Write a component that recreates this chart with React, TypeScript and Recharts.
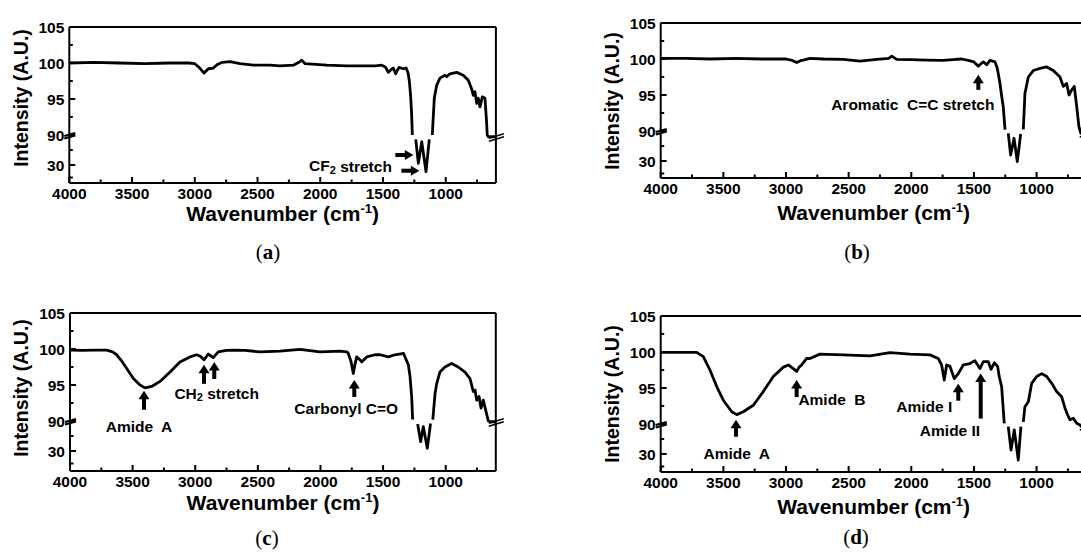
import React from 'react';
import { LineChart, Line, XAxis, YAxis, ReferenceLine, ReferenceDot } from 'recharts';

type Pt = [number, number | null];

// wavenumber (cm-1), intensity (A.U.); null marks the gap at the axis break
const specA: Pt[] = [
  [4000, 100.0], [3800, 100.1], [3600, 100.0], [3400, 99.9], [3200, 100.0], [3050, 100.0], [3000, 99.9],
  [2960, 99.3], [2926, 98.6], [2892, 99.2], [2852, 99.3], [2820, 99.8], [2780, 100.1], [2719, 100.2],
  [2640, 99.9], [2533, 99.7], [2400, 99.7], [2321, 99.6], [2215, 99.7], [2170, 100.1], [2148, 100.4],
  [2120, 99.9], [1949, 99.7], [1789, 99.6], [1630, 99.6], [1560, 99.6], [1510, 99.7], [1480, 99.4],
  [1457, 98.7], [1435, 99.1], [1418, 99.3], [1399, 98.5], [1385, 99.0], [1372, 99.4], [1338, 99.2],
  [1315, 99.3], [1300, 98.6], [1290, 97.5], [1280, 95.5], [1272, 93], [1266, 90], [1250, null],
  [1239, 81.4], [1218, 33.4], [1191, 76.6], [1157, 16.6], [1131, 81.4], [1120, null],
  [1107, 90], [1091, 95.1], [1072, 96.9], [1046, 97.9], [1006, 98.3], [992, 98.1], [966, 98.5],
  [912, 98.7], [860, 98.3], [820, 97.6], [793, 96.4], [780, 95.5], [767, 96.0], [753, 94.4],
  [740, 95.1], [727, 93.9], [708, 95.3], [687, 95.1], [675, 92], [669, 90], [660, 86.5], [600, 86.5],
];

const specB: Pt[] = [
  [4000, 100.1], [3800, 100.1], [3600, 100.0], [3400, 100.1], [3200, 100.0], [3000, 100.0], [2950, 99.8],
  [2915, 99.5], [2880, 99.8], [2862, 99.85], [2808, 100.1], [2700, 100.0], [2543, 99.95], [2409, 99.7],
  [2276, 99.95], [2180, 100.1], [2156, 100.4], [2117, 99.95], [2000, 99.9], [1877, 99.85], [1750, 99.8],
  [1665, 99.9], [1600, 100.0], [1545, 99.8], [1500, 99.6], [1465, 99.0], [1440, 99.4], [1425, 99.6],
  [1398, 99.2], [1372, 99.8], [1332, 99.6], [1315, 98.8], [1306, 98.0], [1292, 96.6], [1280, 95],
  [1266, 93.4], [1252, 90.2], [1240, null], [1226, 85.4], [1207, 42], [1180, 75.5], [1154, 28.7],
  [1127, 84], [1115, null], [1106, 90.2], [1093, 95.2], [1066, 97.5], [1026, 98.4], [973, 98.7],
  [919, 98.9], [867, 98.4], [813, 97.5], [787, 96.2], [760, 96.6], [741, 95.0], [720, 95.7],
  [699, 96.2], [680, 93.4], [662, 90.6], [650, 88], [600, 87],
];

const specC: Pt[] = [
  [4000, 99.85], [3900, 99.8], [3800, 99.85], [3707, 99.85], [3660, 99.6], [3627, 99.2], [3590, 98.4],
  [3547, 97.3], [3494, 95.9], [3441, 95.0], [3401, 94.6], [3348, 94.8], [3281, 95.5], [3201, 96.8],
  [3122, 98.2], [3042, 98.9], [2988, 99.2], [2960, 99.0], [2930, 98.5], [2896, 99.3], [2856, 98.8],
  [2816, 99.6], [2750, 99.8], [2696, 99.85], [2600, 99.8], [2483, 99.6], [2323, 99.7], [2163, 99.95],
  [2004, 99.6], [1844, 99.7], [1790, 99.6], [1778, 99.4], [1755, 98.2], [1738, 96.6], [1725, 97.8],
  [1711, 98.9], [1690, 98.6], [1671, 98.2], [1631, 98.9], [1564, 99.2], [1524, 99.2], [1458, 98.9],
  [1405, 99.2], [1337, 99.4], [1325, 98.9], [1298, 97.8], [1285, 96.2], [1272, 93.4], [1264, 90.2],
  [1245, null], [1224, 84], [1200, 48.7], [1179, 78.6], [1147, 35.3], [1121, 85], [1112, null],
  [1103, 90.2], [1085, 93.8], [1072, 95.2], [1046, 96.8], [1006, 97.5], [953, 98.0], [900, 97.5],
  [846, 96.8], [806, 95.9], [780, 94.1], [766, 94.3], [753, 92.9], [734, 93.4], [718, 91.8],
  [700, 92.9], [678, 91.3], [660, 90.0], [640, 88.5], [600, 88.5],
];

const specD: Pt[] = [
  [4000, 99.95], [3850, 99.95], [3713, 99.95], [3660, 99.35], [3607, 97.5], [3553, 95.2], [3500, 93.3],
  [3433, 91.7], [3393, 91.3], [3341, 91.7], [3261, 92.6], [3181, 94.5], [3101, 96.6], [3021, 97.9],
  [2981, 98.2], [2942, 97.7], [2915, 97.3], [2895, 97.9], [2875, 98.2], [2835, 99.1], [2809, 99.1],
  [2729, 99.7], [2543, 99.6], [2330, 99.45], [2170, 99.9], [2010, 99.7], [1851, 99.6], [1785, 99.1],
  [1758, 98.2], [1737, 96.1], [1718, 98.2], [1691, 98.0], [1657, 96.3], [1625, 97.0], [1585, 98.2],
  [1532, 98.4], [1492, 98.8], [1452, 97.7], [1425, 98.65], [1385, 98.65], [1364, 97.6], [1337, 98.5],
  [1311, 98.0], [1298, 96.6], [1279, 95.2], [1270, 93], [1258, 90.1], [1240, null], [1226, 84.7],
  [1204, 38], [1178, 78], [1146, 18], [1125, 84.7], [1115, null], [1106, 90.3], [1093, 92.4],
  [1066, 93.1], [1039, 95.65], [999, 96.6], [959, 97.0], [919, 96.6], [879, 95.65], [840, 94.5],
  [800, 93.8], [773, 92.2], [752, 91.25], [734, 90.6], [707, 90.8], [680, 90.1], [654, 88], [600, 87],
];

const xMajor = [4000, 3500, 3000, 2500, 2000, 1500, 1000];
const xMinor = [3750, 3250, 2750, 2250, 1750, 1250, 750];
const yMajor = [105, 100, 95, 90, 30];
const yMinor = [102.5, 97.5, 92.5, 60, 5];

type Arrow = { x: number; y: number; dir: 'up' | 'right'; len: number };
type Note = { x: number; y: number; pre: string; sub?: string; post?: string };

const arrowsA: Arrow[] = [
  { x: 1258, y: 50, dir: 'right', len: 18 },
  { x: 1210, y: 18.6, dir: 'right', len: 18 },
];
const notesA: Note[] = [{ x: 1759, y: 28.7, pre: 'CF', sub: '2', post: ' stretch' }];

const arrowsB: Arrow[] = [{ x: 1465, y: 97.8, dir: 'up', len: 15 }];
const notesB: Note[] = [{ x: 1988, y: 93.7, pre: 'Aromatic  C=C stretch' }];

const arrowsC: Arrow[] = [
  { x: 3409, y: 94.2, dir: 'up', len: 19 },
  { x: 2930, y: 97.8, dir: 'up', len: 19 },
  { x: 2848, y: 98.2, dir: 'up', len: 17 },
  { x: 1730, y: 95.7, dir: 'up', len: 17 },
];
const notesC: Note[] = [
  { x: 3449, y: 78.6, pre: 'Amide  A' },
  { x: 2829, y: 93.85, pre: 'CH', sub: '2', post: ' stretch' },
  { x: 1794, y: 91.76, pre: 'Carbonyl C=O' },
];

const arrowsD: Arrow[] = [
  { x: 3399, y: 90.6, dir: 'up', len: 17 },
  { x: 2915, y: 96.1, dir: 'up', len: 17 },
  { x: 1625, y: 95.6, dir: 'up', len: 17 },
  { x: 1446, y: 97.0, dir: 'up', len: 45 },
];
const notesD: Note[] = [
  { x: 3393, y: 31.4, pre: 'Amide  A' },
  { x: 2633, y: 93.4, pre: 'Amide  B' },
  { x: 1896, y: 92.4, pre: 'Amide I' },
  { x: 1691, y: 78, pre: 'Amide II' },
];

// broken y axis: 90..105 linear, everything below 90 squeezed
const BREAK = 90;
const PX_PER_UNIT = 7.2;
const LOW = 30 / PX_PER_UNIT / 60;
const tf = (v: number) => (v >= BREAK ? v : BREAK - (BREAK - v) * LOW);

const FONT = "'Liberation Sans', Arial, sans-serif";
const tickFont = { fontFamily: FONT, fontWeight: 700, fontSize: 15.5, fill: '#000' };
const noteFont = { fontFamily: FONT, fontWeight: 700, fontSize: 15.5, fill: '#000' };

const XTick = (props: any) => {
  const { x, y, payload } = props;
  const major = xMajor.includes(payload.value);
  return (
    <g>
      <line x1={x} x2={x} y1={y} y2={y - (major ? 6 : 3.5)} stroke="#000" strokeWidth={2} />
      {major && (
        <text x={x} y={y + 10.5} textAnchor="middle" dominantBaseline="central" style={tickFont}>
          {payload.value}
        </text>
      )}
    </g>
  );
};

const YTick = (props: any) => {
  const { x, y, payload } = props;
  const label = yMajor.find((v) => Math.abs(tf(v) - payload.value) < 1e-6);
  return (
    <g>
      <line x1={x} x2={x + (label !== undefined ? 6 : 3.5)} y1={y} y2={y} stroke="#000" strokeWidth={2} />
      {label === 90 && (
        <g stroke="#000" strokeWidth={2.2}>
          <line x1={x - 5} y1={y + 1} x2={x + 6} y2={y - 2} />
          <line x1={x - 5} y1={y + 3.5} x2={x + 6} y2={y + 0.5} />
        </g>
      )}
      {label !== undefined && (
        <text x={x - 5} y={y} textAnchor="end" dominantBaseline="central" style={tickFont}>
          {label}
        </text>
      )}
    </g>
  );
};

const arrowShape = (a: Arrow) => (p: any) => {
  const { cx, cy } = p;
  if (a.dir === 'up') {
    return (
      <g fill="#000">
        <polygon points={`${cx},${cy} ${cx - 5.5},${cy + 8.5} ${cx + 5.5},${cy + 8.5}`} />
        <rect x={cx - 2} y={cy + 7} width={4} height={a.len - 7} />
      </g>
    );
  }
  return (
    <g fill="#000">
      <polygon points={`${cx},${cy} ${cx - 8.5},${cy - 5} ${cx - 8.5},${cy + 5}`} />
      <rect x={cx - a.len} y={cy - 2} width={a.len - 7} height={4} />
    </g>
  );
};

const noteShape = (n: Note) => (p: any) => {
  const { cx, cy } = p;
  return (
    <text x={cx} y={cy} textAnchor="middle" dominantBaseline="central" style={noteFont} xmlSpace="preserve">
      {n.pre}
      {n.sub && (
        <tspan fontSize={11} dy={4}>
          {n.sub}
        </tspan>
      )}
      {n.post && <tspan dy={n.sub ? -4 : 0}>{n.post}</tspan>}
    </text>
  );
};

const breakShape = (p: any) => {
  const { cx, cy } = p;
  return (
    <g stroke="#000" strokeWidth={1.6}>
      <line x1={cx - 7} y1={cy + 1.5} x2={cx + 8} y2={cy - 3} />
      <line x1={cx - 7} y1={cy + 4.5} x2={cx + 8} y2={cy} />
    </g>
  );
};

type PanelCfg = {
  id: string;
  data: Pt[];
  arrows: Arrow[];
  notes: Note[];
  box: { left: number; top: number; w: number; h: number };
  plot: { x: number; y: number; w: number; h: number };
  xTitle: [number, number];
  yTitle: [number, number];
  caption: [number, number];
};

const panels: PanelCfg[] = [
  {
    id: 'a', data: specA, arrows: arrowsA, notes: notesA,
    box: { left: 0, top: 0, w: 530, h: 240 }, plot: { x: 69.3, y: 27, w: 426.6, h: 156 },
    xTitle: [282.6, 214], yTitle: [22, 98], caption: [268, 252],
  },
  {
    id: 'b', data: specB, arrows: arrowsB, notes: notesB,
    box: { left: 560, top: 0, w: 560, h: 240 }, plot: { x: 660.7, y: 23, w: 426, h: 155 },
    xTitle: [873.7, 212.5], yTitle: [613.3, 100.7], caption: [857, 252],
  },
  {
    id: 'c', data: specC, arrows: arrowsC, notes: notesC,
    box: { left: 0, top: 280, w: 530, h: 240 }, plot: { x: 70, y: 313, w: 425.8, h: 158 },
    xTitle: [283, 502.5], yTitle: [22.3, 387.5], caption: [267, 538],
  },
  {
    id: 'd', data: specD, arrows: arrowsD, notes: notesD,
    box: { left: 560, top: 280, w: 560, h: 240 }, plot: { x: 660.7, y: 316, w: 426, h: 156 },
    xTitle: [873.7, 507], yTitle: [613.3, 394], caption: [856, 537],
  },
];

const Y_W = 40;
const X_H = 30;

const Panel = ({ cfg }: { cfg: PanelCfg }) => {
  const { box, plot } = cfg;
  const rows = cfg.data.map(([wn, v]) => ({ wn, t: v == null ? null : tf(v) }));
  const lo = 105 - plot.h / PX_PER_UNIT;
  const margin = {
    left: plot.x - box.left - Y_W,
    top: plot.y - box.top,
    right: box.left + box.w - plot.x - plot.w,
    bottom: box.top + box.h - plot.y - plot.h - X_H,
  };
  return (
    <div style={{ position: 'absolute', left: box.left, top: box.top }}>
      <LineChart width={box.w} height={box.h} data={rows} margin={margin}>
        <XAxis
          type="number"
          dataKey="wn"
          domain={[600, 4000]}
          reversed
          ticks={[...xMajor, ...xMinor]}
          interval={0}
          tickSize={0}
          tickMargin={0}
          tickLine={false}
          tick={(p: any) => <XTick {...p} />}
          axisLine={{ stroke: '#000', strokeWidth: 2 }}
          height={X_H}
          allowDataOverflow
        />
        <YAxis
          type="number"
          domain={[lo, 105]}
          ticks={[...yMajor.map(tf), ...yMinor.map(tf)]}
          interval={0}
          tickSize={0}
          tickMargin={0}
          tickLine={false}
          tick={(p: any) => <YTick {...p} />}
          axisLine={{ stroke: '#000', strokeWidth: 2 }}
          width={Y_W}
          allowDataOverflow
        />
        <ReferenceLine y={105} stroke="#000" strokeWidth={2} />
        <ReferenceLine x={600} stroke="#000" strokeWidth={2} />
        <Line
          type="linear"
          dataKey="t"
          stroke="#000"
          strokeWidth={2.8}
          strokeLinejoin="round"
          dot={false}
          activeDot={false}
          connectNulls={false}
          isAnimationActive={false}
        />
        <ReferenceDot x={600} y={tf(cfg.data[cfg.data.length - 1][1] as number)} r={0} ifOverflow="visible" shape={breakShape} />
        {cfg.arrows.map((a, i) => (
          <ReferenceDot key={`ar${i}`} x={a.x} y={tf(a.y)} r={0} ifOverflow="visible" shape={arrowShape(a)} />
        ))}
        {cfg.notes.map((n, i) => (
          <ReferenceDot key={`nt${i}`} x={n.x} y={tf(n.y)} r={0} ifOverflow="visible" shape={noteShape(n)} />
        ))}
      </LineChart>
    </div>
  );
};

const abs = (x: number, y: number): React.CSSProperties => ({
  position: 'absolute',
  left: x,
  top: y,
  whiteSpace: 'nowrap',
  lineHeight: 1,
});

export default function App() {
  return (
    <div
      style={{
        position: 'fixed',
        left: 0,
        top: 0,
        width: 1081,
        height: 554,
        overflow: 'hidden',
        background: '#fff',
      }}
    >
      {panels.map((cfg) => (
        <React.Fragment key={cfg.id}>
          <Panel cfg={cfg} />
          <div
            style={{
              ...abs(cfg.xTitle[0], cfg.xTitle[1]),
              transform: 'translate(-50%, -50%)',
              fontFamily: FONT,
              fontWeight: 700,
              fontSize: 21,
              lineHeight: 0.8,
            }}
          >
            Wavenumber (cm<sup style={{ fontSize: 13, verticalAlign: 8, lineHeight: 0 }}>-1</sup>)
          </div>
          <div
            style={{
              ...abs(cfg.yTitle[0], cfg.yTitle[1]),
              transform: 'translate(-50%, -50%) rotate(-90deg)',
              fontFamily: FONT,
              fontWeight: 700,
              fontSize: 19.5,
            }}
          >
            Intensity (A.U.)
          </div>
          <div
            style={{
              ...abs(cfg.caption[0], cfg.caption[1]),
              transform: 'translate(-50%, -50%)',
              fontFamily: "'Liberation Serif', 'Times New Roman', serif",
              fontSize: 21,
            }}
          >
            (<b>{cfg.id}</b>)
          </div>
        </React.Fragment>
      ))}
    </div>
  );
}
